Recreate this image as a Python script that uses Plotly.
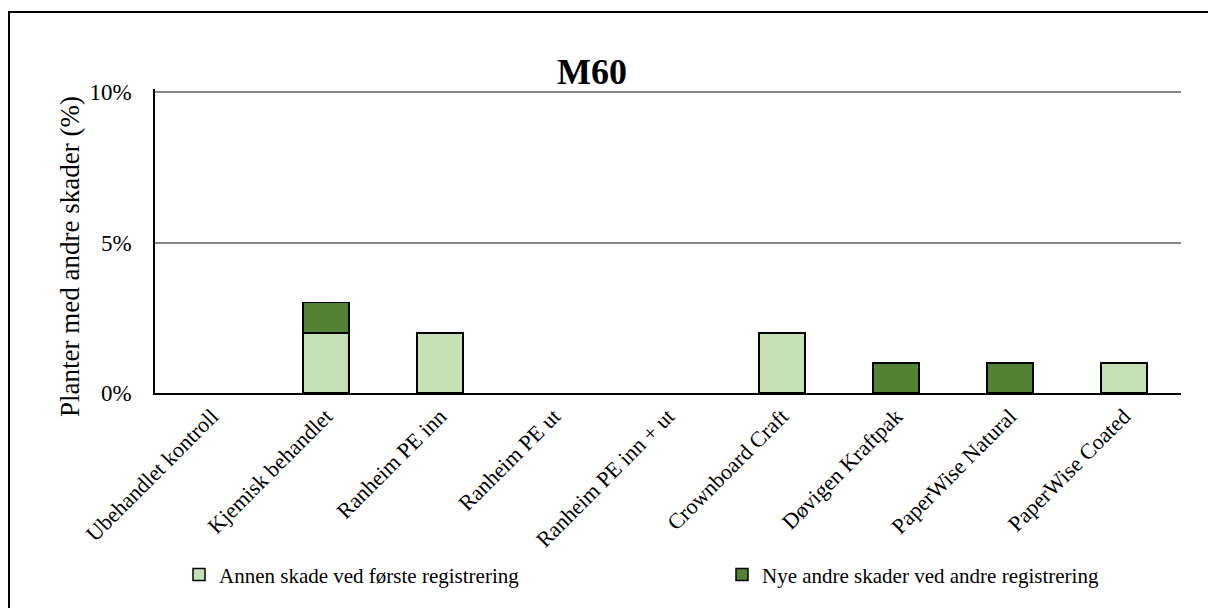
import plotly.graph_objects as go

categories = ["Ubehandlet kontroll", "Kjemisk behandlet", "Ranheim PE inn", "Ranheim PE ut",
              "Ranheim PE inn + ut", "Crownboard Craft", "Døvigen Kraftpak", "PaperWise Natural",
              "PaperWise Coated"]
annen = [0, 2, 2, 0, 0, 2, 0, 0, 1]
nye = [0, 1, 0, 0, 0, 0, 1, 1, 0]
series_names = ["Annen skade ved første registrering", "Nye andre skader ved andre registrering"]
y_ticks = [0, 5, 10]
y_tick_labels = ["0%", "5%", "10%"]

FONT = "Liberation Serif, Times New Roman, serif"
W, H = 1208, 608
YMAX = 10.1
L, R, B = 155, 1181, 395
T = round(395 - (395 - 92) * YMAX / 10)


def px(x):  # page pixel -> paper x
    return (x - L) / (R - L)


def py(y):  # page pixel -> paper y
    return (B - y) / (B - T)


def nz(vals):
    return [v if v else None for v in vals]


fig = go.Figure()
fig.add_trace(go.Bar(x=categories, y=nz(annen), name=series_names[0], legend="legend",
                     marker=dict(color="#C5E0B4", line=dict(color="black", width=1.5)),
                     width=0.4))
fig.add_trace(go.Bar(x=categories, y=nz(nye), name=series_names[1], legend="legend2",
                     marker=dict(color="#548235", line=dict(color="black", width=1.5)),
                     width=0.4))

leg_common = dict(orientation="h", yanchor="middle", y=py(578), xanchor="left",
                  font=dict(family=FONT, size=21), itemwidth=30, bgcolor="rgba(0,0,0,0)",
                  borderwidth=0)

fig.update_layout(
    barmode="stack",
    width=W, height=H,
    margin=dict(l=L, r=W - R, t=T, b=H - B, pad=0),
    paper_bgcolor="white", plot_bgcolor="white",
    font=dict(family=FONT, color="black", size=21),
    showlegend=True,
    legend=dict(leg_common, x=px(179)),
    legend2=dict(leg_common, x=px(722)),
    xaxis=dict(tickangle=-45, tickfont=dict(family=FONT, size=22), showgrid=False,
               showline=True, linecolor="black", linewidth=1.5, ticks="",
               range=[-0.5, 8.5], automargin=False),
    yaxis=dict(range=[0, YMAX], tickvals=y_ticks, ticktext=y_tick_labels,
               tickfont=dict(family=FONT, size=23), showgrid=True, gridcolor="#878787",
               gridwidth=1.5, showline=True, linecolor="black", linewidth=1.5,
               zeroline=False, ticks="", ticklabelstandoff=17, automargin=False),
    annotations=[
        dict(text="<b>M60</b>", x=px(592), y=py(72), xref="paper", yref="paper",
             xanchor="center", yanchor="middle",
             showarrow=False, font=dict(family=FONT, size=36)),
        dict(text="Planter med andre skader (%)", x=px(70), y=py(258), xref="paper", yref="paper",
             xanchor="center", yanchor="middle",
             textangle=-90, showarrow=False, font=dict(family=FONT, size=27)),
    ],
    shapes=[
        dict(type="rect", xref="paper", yref="paper", x0=px(9), x1=px(1230), y0=py(640),
             y1=py(11.5), line=dict(color="black", width=2), fillcolor="rgba(0,0,0,0)"),
    ],
)

fig.write_html("out.html", config={"displayModeBar": False},
               post_script="document.body.style.margin='0';document.body.style.overflow='hidden';")
